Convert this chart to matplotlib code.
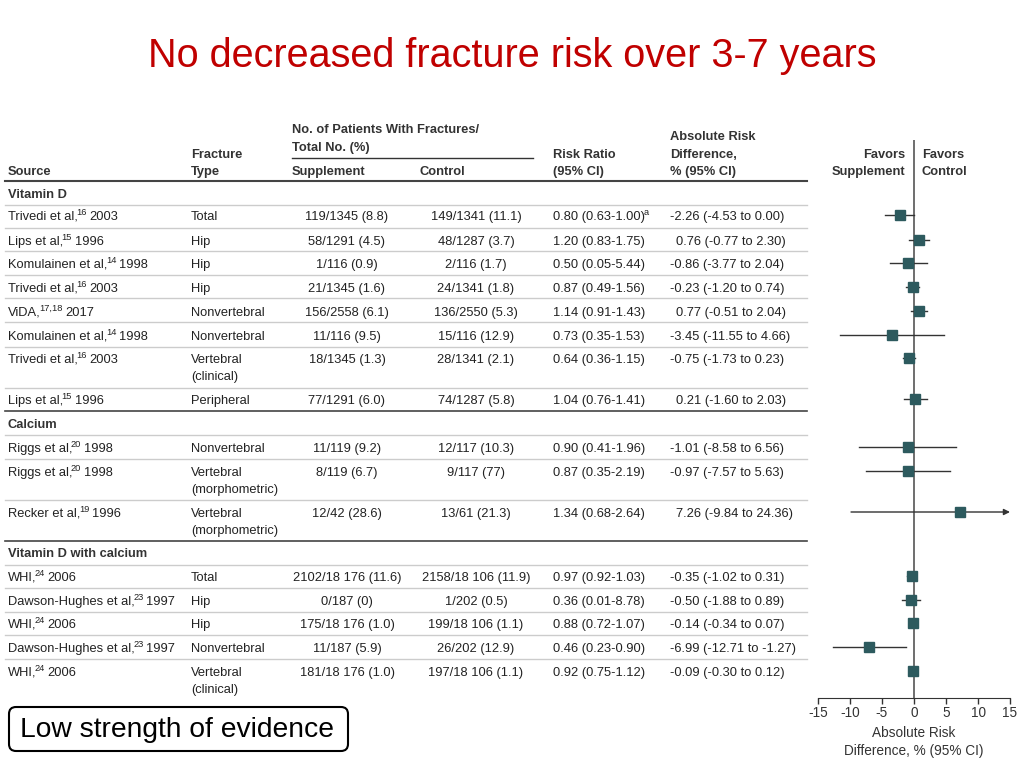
import matplotlib
matplotlib.use("Agg")
import matplotlib.pyplot as plt
from matplotlib.patches import FancyBboxPatch

plt.rcParams['font.family'] = ['Liberation Sans', 'DejaVu Sans']
plt.rcParams['axes.unicode_minus'] = False

# ---- data ----
groups = ["Vitamin D", "Calcium", "Vitamin D with calcium"]
src_name = ["Trivedi et al,", "Lips et al,", "Komulainen et al,", "Trivedi et al,",
            "ViDA,", "Komulainen et al,", "Trivedi et al,", "Lips et al,",
            "Riggs et al,", "Riggs et al,", "Recker et al,",
            "WHI,", "Dawson-Hughes et al,", "WHI,", "Dawson-Hughes et al,", "WHI,"]
src_ref = ["16", "15", "14", "16", "17,18", "14", "16", "15", "20", "20", "19",
           "24", "23", "24", "23", "24"]
src_year = ["2003", "1996", "1998", "2003", "2017", "1998", "2003", "1996",
            "1998", "1998", "1996", "2006", "1997", "2006", "1997", "2006"]
ftypes = ["Total", "Hip", "Hip", "Hip", "Nonvertebral", "Nonvertebral",
          "Vertebral\n(clinical)", "Peripheral", "Nonvertebral",
          "Vertebral\n(morphometric)", "Vertebral\n(morphometric)",
          "Total", "Hip", "Hip", "Nonvertebral", "Vertebral\n(clinical)"]
supp = ["119/1345 (8.8)", "58/1291 (4.5)", "1/116 (0.9)", "21/1345 (1.6)",
        "156/2558 (6.1)", "11/116 (9.5)", "18/1345 (1.3)", "77/1291 (6.0)",
        "11/119 (9.2)", "8/119 (6.7)", "12/42 (28.6)",
        "2102/18 176 (11.6)", "0/187 (0)", "175/18 176 (1.0)", "11/187 (5.9)",
        "181/18 176 (1.0)"]
ctrl = ["149/1341 (11.1)", "48/1287 (3.7)", "2/116 (1.7)", "24/1341 (1.8)",
        "136/2550 (5.3)", "15/116 (12.9)", "28/1341 (2.1)", "74/1287 (5.8)",
        "12/117 (10.3)", "9/117 (77)", "13/61 (21.3)",
        "2158/18 106 (11.9)", "1/202 (0.5)", "199/18 106 (1.1)", "26/202 (12.9)",
        "197/18 106 (1.1)"]
rr = ["0.80 (0.63-1.00)", "1.20 (0.83-1.75)", "0.50 (0.05-5.44)",
      "0.87 (0.49-1.56)", "1.14 (0.91-1.43)", "0.73 (0.35-1.53)",
      "0.64 (0.36-1.15)", "1.04 (0.76-1.41)", "0.90 (0.41-1.96)",
      "0.87 (0.35-2.19)", "1.34 (0.68-2.64)", "0.97 (0.92-1.03)",
      "0.36 (0.01-8.78)", "0.88 (0.72-1.07)", "0.46 (0.23-0.90)",
      "0.92 (0.75-1.12)"]
rr_note = ["a", "", "", "", "", "", "", "", "", "", "", "", "", "", "", ""]
ard = [-2.26, 0.76, -0.86, -0.23, 0.77, -3.45, -0.75, 0.21, -1.01, -0.97, 7.26,
       -0.35, -0.50, -0.14, -6.99, -0.09]
ard_lo = [-4.53, -0.77, -3.77, -1.20, -0.51, -11.55, -1.73, -1.60, -8.58, -7.57,
          -9.84, -1.02, -1.88, -0.34, -12.71, -0.30]
ard_hi = [0.00, 2.30, 2.04, 0.74, 2.04, 4.66, 0.23, 2.03, 6.56, 5.63, 24.36,
          0.31, 0.89, 0.07, -1.27, 0.12]

# ---- layout (pixel rows) ----
row_y = [215, 240, 263, 287, 311, 335, 358, 399, 447, 471, 512, 576, 600, 623, 647, 671]
group_y = [193, 423, 552]
thin_y = [205, 228, 251, 275, 298, 322, 347, 388, 435, 459, 500, 565, 588, 612, 635, 659]
thick_y = [411, 541]

W, H = 1024, 768
fig = plt.figure(figsize=(W / 100, H / 100), dpi=100)
ax = fig.add_axes([0, 0, 1, 1])
ax.set_xlim(0, W)
ax.set_ylim(H, 0)
ax.axis('off')
rend = fig.canvas.get_renderer()

fig.text(0.5, 1 - 56 / H, "No decreased fracture risk over 3-7 years",
         ha='center', va='center', fontsize=28.5, color='#c00000')

fs = 9.3
tc = '#222222'
hc = '#333333'
base = 4.6  # baseline offset below the cap-height centre of a row


def put(x, y, s, size=fs, **kw):
    kw.setdefault('color', tc)
    return ax.text(x, y + base, s, fontsize=size, va='baseline', **kw)


def hput(x, y, s, **kw):
    return put(x, y, s, fontweight='bold', color=hc, **kw)


def right_edge(t):
    return t.get_window_extent(renderer=rend).x1


def with_sup(x, y, text, sup, after=""):
    t = put(x, y, text)
    if not sup:
        return
    ts = put(right_edge(t) - 1.5, y - 4.5, sup, size=fs * 0.72)
    if after:
        put(right_edge(ts) + 2.5, y, after)


hput(292, 128, "No. of Patients With Fractures/")
hput(292, 146, "Total No. (%)")
ax.plot([292, 533], [158, 158], color=hc, lw=1.0)
hput(191, 153, "Fracture")
hput(191, 170, "Type")
hput(8, 170, "Source")
hput(292, 170, "Supplement")
hput(419, 170, "Control")
hput(553, 153, "Risk Ratio")
hput(553, 170, "(95% CI)")
hput(670, 135, "Absolute Risk")
hput(670, 153, "Difference,")
hput(670, 170, "% (95% CI)")
hput(905, 153, "Favors", ha='right')
hput(905, 170, "Supplement", ha='right')
hput(922, 153, "Favors")
hput(922, 170, "Control")

ax.plot([5, 807], [181, 181], color='#444444', lw=1.5)
for y in thin_y:
    ax.plot([5, 807], [y, y], color='#cccccc', lw=1.0)
for y in thick_y:
    ax.plot([5, 807], [y, y], color='#444444', lw=1.2)

for g, y in zip(groups, group_y):
    hput(8, y, g)

for i, y in enumerate(row_y):
    with_sup(8, y, src_name[i], src_ref[i], src_year[i])
    for k, line in enumerate(ftypes[i].split('\n')):
        put(191, y + 17 * k, line)
    put(347, y, supp[i], ha='center')
    put(476, y, ctrl[i], ha='center')
    with_sup(553, y, rr[i], rr_note[i])
    s = "%.2f (%.2f to %.2f)" % (ard[i], ard_lo[i], ard_hi[i])
    put(670 if ard[i] < 0 else 676, y, s)

# box
box = FancyBboxPatch((9, 707), 339, 44, boxstyle="round,pad=0,rounding_size=7",
                     fc='white', ec='black', lw=1.5)
ax.add_patch(box)
ax.text(20, 730, "Low strength of evidence", fontsize=20.3, va='center', color='black')

# ---- forest plot ----
fx0, fx1, fy0, fy1 = 818, 1010, 698, 140
fax = fig.add_axes([fx0 / W, 1 - fy0 / H, (fx1 - fx0) / W, (fy0 - fy1) / H])
fax.set_xlim(-15, 15)
fax.set_ylim(fy0, fy1)
fax.patch.set_alpha(0)
for sp in ['top', 'right', 'left']:
    fax.spines[sp].set_visible(False)
fax.spines['bottom'].set_color(hc)
fax.set_yticks([])
fax.set_xticks([-15, -10, -5, 0, 5, 10, 15])
fax.tick_params(axis='x', length=4, width=1, color=hc, labelsize=fs + 0.5,
                labelcolor=hc, pad=2)
fax.axvline(0, color='#555555', lw=1.2, zorder=1)
fax.set_xlabel("Absolute Risk\nDifference, % (95% CI)", fontsize=fs + 0.5, color=hc,
               labelpad=4, linespacing=1.35)

for i, y in enumerate(row_y):
    hi = min(ard_hi[i], 15)
    if ard_hi[i] > 15:
        fax.annotate("", xy=(15, y), xytext=(ard_lo[i], y),
                     arrowprops=dict(arrowstyle='-|>', color=hc, lw=1,
                                     mutation_scale=9, shrinkA=0, shrinkB=0),
                     annotation_clip=False)
    else:
        fax.plot([ard_lo[i], hi], [y, y], color=hc, lw=1, zorder=2)
    fax.plot(ard[i], y, marker='s', ms=7, color='#2d5a5e', zorder=3)

fig.savefig("out.png", dpi=100)
